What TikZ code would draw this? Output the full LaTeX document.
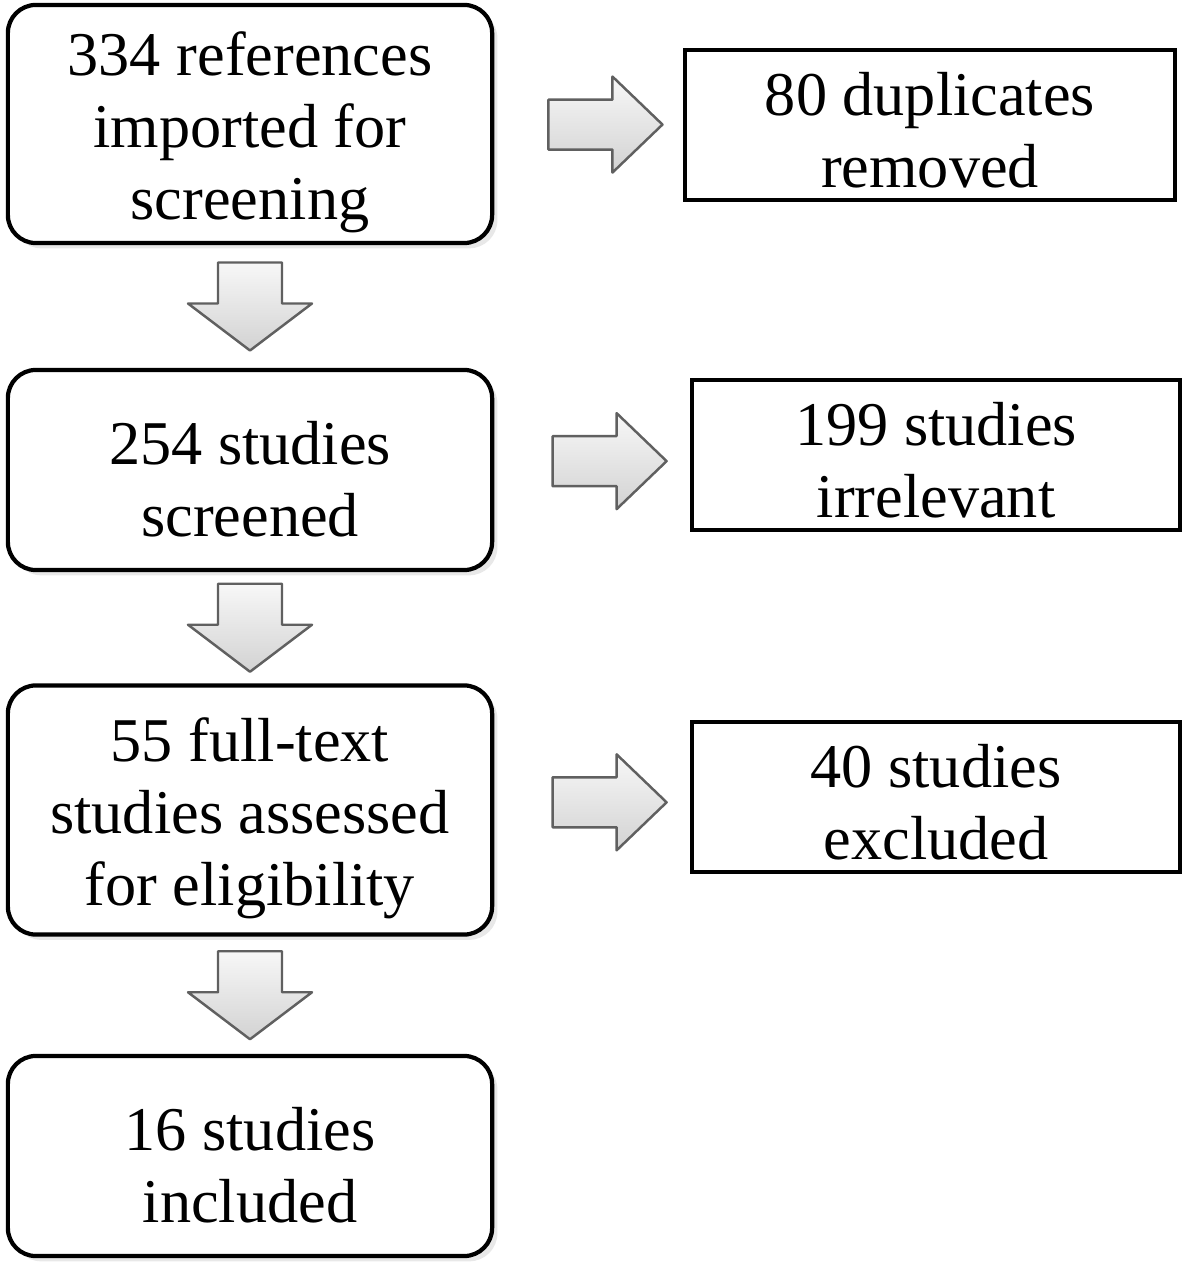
\documentclass[tikz,border=0pt]{standalone}
\usepackage{fontspec}
\setmainfont{Liberation Serif}
\usetikzlibrary{calc,shadows}
\newcommand{\tallstrut}{\rule{0pt}{17.4pt}}
\newcommand{\sidestrut}{\rule{0pt}{15.1pt}}

\begin{document}
\begin{tikzpicture}[x=0.01cm, y=-0.01cm,
    stage/.style={draw, line width=1.2pt, rounded corners=8pt, fill=white, align=center,
        font=\fontsize{17.7}{20.5}\selectfont, minimum width=4.84cm, inner ysep=1pt,
        drop shadow={opacity=0.18, shadow xshift=1.5pt, shadow yshift=-1.5pt}},
    side/.style={draw, line width=1.2pt, fill=white, align=center,
        font=\fontsize{17.7}{20.5}\selectfont, minimum width=4.88cm, minimum height=1.5cm, inner ysep=1pt},
    blk/.style={draw=gray!75!black, line width=0.7pt, line join=round, top color=gray!6, bottom color=gray!35},
    pics/down/.style={code={\draw[blk] (-32,-44) -- (32,-44) -- (32,-3) -- (62,-3) -- (0,44) -- (-62,-3) -- (-32,-3) -- cycle;}},
    pics/right/.style={code={\draw[blk] (-57,-25) -- (7,-25) -- (7,-48) -- (57,0) -- (7,48) -- (7,25) -- (-57,25) -- cycle;}}]
    \useasboundingbox (0,0) rectangle (1187,1280);

    % main stages
    \node[stage, minimum height=2.38cm] (imp) at (250,124) {\tallstrut334 references\\imported for\\screening};
    \node[stage, minimum height=2.0cm] (scn) at (250,470) {\tallstrut254 studies\\screened};
    \node[stage, minimum height=2.49cm] (elg) at (250,810) {\tallstrut55 full-text\\studies assessed\\for eligibility};
    \node[stage, minimum height=2.0cm] (inc) at (250,1156) {\tallstrut16 studies\\included};

    % removed records
    \node[side, minimum width=4.9cm] (dup) at (930,125) {\sidestrut80 duplicates\\removed};
    \node[side] (irr) at (936,455) {\sidestrut199 studies\\irrelevant};
    \node[side] (exc) at (936,797) {\sidestrut40 studies\\excluded};

    % block arrows
    \pic at ($(imp.south)!0.5!(scn.north)$) {down};
    \pic at ($(scn.south)!0.5!(elg.north)$) {down};
    \pic at ($(elg.south)!0.5!(inc.north)$) {down};
    \pic at ($(imp.east)!0.59!(dup.west)$) {right};
    \pic at ($(scn.east)!0.59!(irr.west)$) {right};
    \pic at ($(elg.east)!0.59!(exc.west)$) {right};
\end{tikzpicture}
\end{document}
